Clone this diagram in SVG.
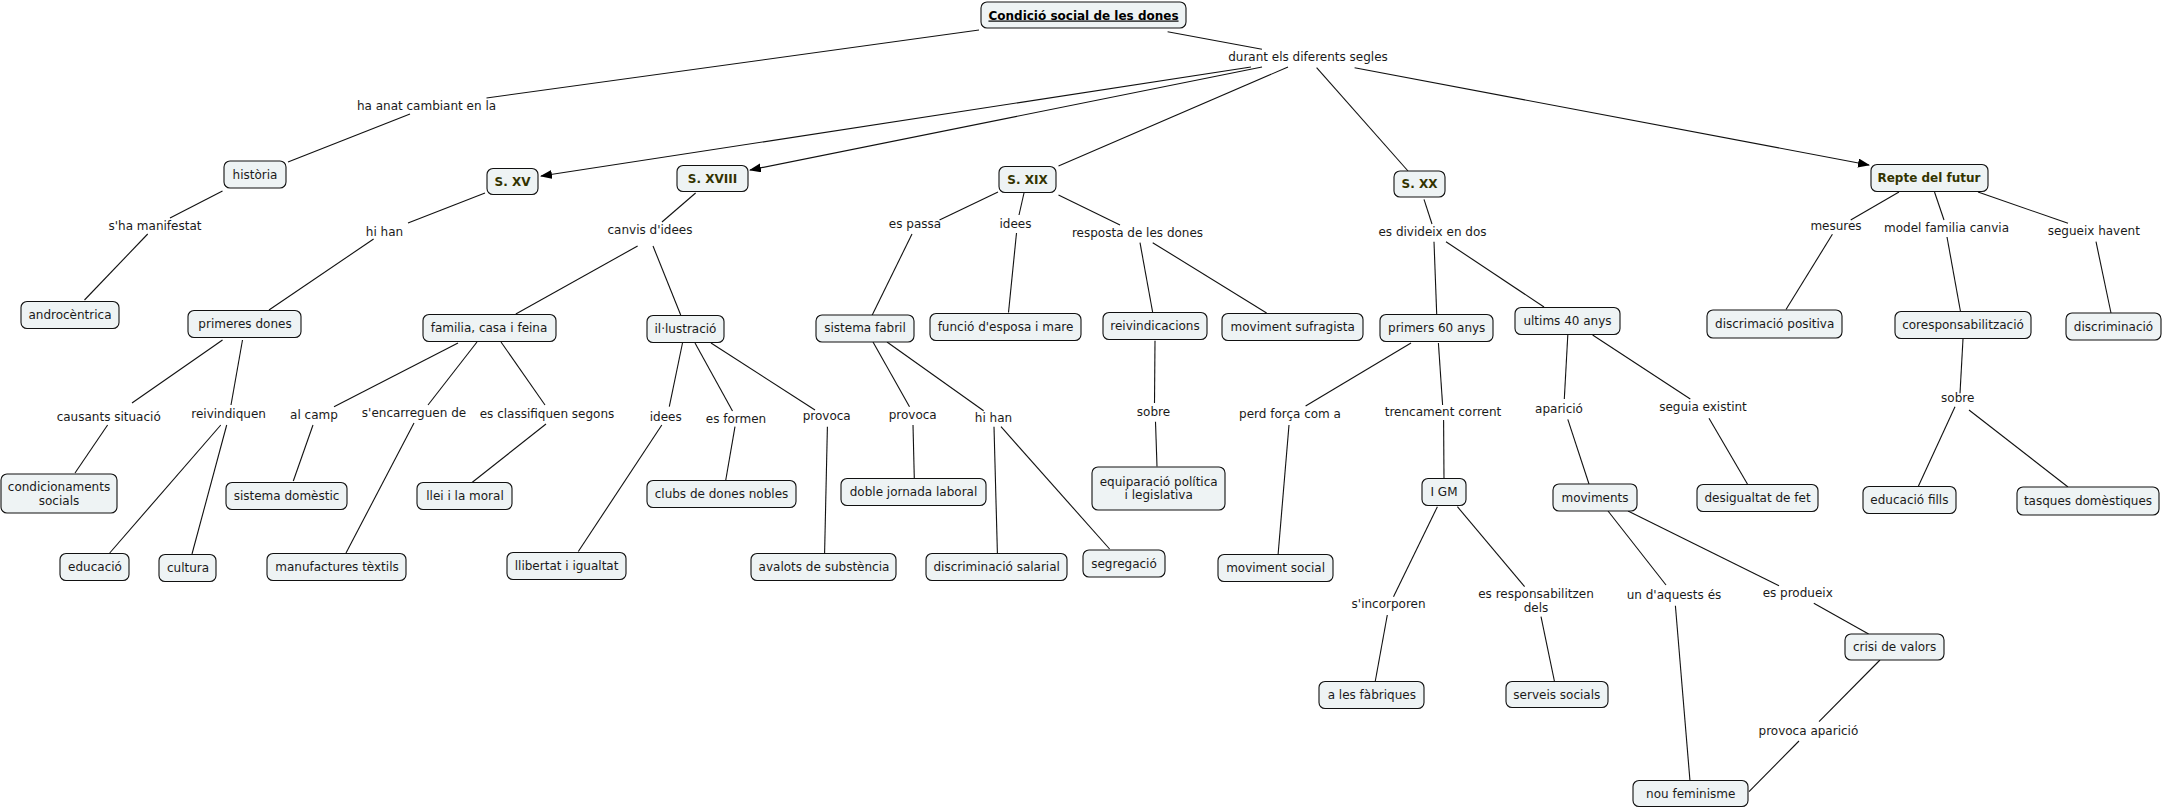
<svg xmlns="http://www.w3.org/2000/svg" width="2165" height="809" viewBox="0 0 2165 809">
<style>
text{font-family:"DejaVu Sans",Verdana,sans-serif;font-size:12px;fill:#1a1a1a;text-anchor:middle}
.n rect{fill:#eef3f4;stroke:#111;stroke-width:1.1}
.t{font-weight:bold;fill:#333300}
.r{font-weight:bold;fill:#000;text-decoration:underline}
#connectors line{stroke:#111;stroke-width:1.1;fill:none}
</style>
<defs>
<marker id="arr" markerUnits="userSpaceOnUse" markerWidth="12" markerHeight="10" refX="11" refY="4.5" orient="auto">
<path d="M0,0 L12,4.5 L0,9 z" fill="#000"/>
</marker>
</defs>
<rect width="2165" height="809" fill="#fff"/>
<g id="connectors">
<line x1="979" y1="30" x2="486.5" y2="98"/>
<line x1="410" y1="114" x2="288" y2="162"/>
<line x1="222.5" y1="191" x2="170" y2="218"/>
<line x1="147.7" y1="234" x2="84.5" y2="300"/>
<line x1="1167.6" y1="31.7" x2="1262" y2="49.3"/>
<line x1="1251" y1="67" x2="541" y2="176" marker-end="url(#arr)"/>
<line x1="1262" y1="67" x2="750" y2="170" marker-end="url(#arr)"/>
<line x1="1288" y1="67" x2="1058.5" y2="166"/>
<line x1="1316.6" y1="67.7" x2="1408" y2="171"/>
<line x1="1354.6" y1="67.7" x2="1869" y2="165" marker-end="url(#arr)"/>
<line x1="485" y1="193" x2="408" y2="223"/>
<line x1="373.6" y1="239" x2="269" y2="310"/>
<line x1="222.5" y1="340" x2="132" y2="403"/>
<line x1="107.6" y1="425" x2="75" y2="473"/>
<line x1="242.5" y1="340" x2="231" y2="405"/>
<line x1="220.8" y1="425" x2="109.7" y2="553"/>
<line x1="226.7" y1="425" x2="192" y2="554"/>
<line x1="695.6" y1="193" x2="662" y2="222"/>
<line x1="637.6" y1="246" x2="515.8" y2="314"/>
<line x1="653" y1="246" x2="680.7" y2="315"/>
<line x1="458" y1="343" x2="334" y2="406.7"/>
<line x1="313" y1="425" x2="293.3" y2="481"/>
<line x1="477" y1="342" x2="428" y2="405"/>
<line x1="414" y1="423" x2="346" y2="553"/>
<line x1="501" y1="342" x2="545" y2="405"/>
<line x1="546" y1="424" x2="472" y2="482.5"/>
<line x1="682.5" y1="343" x2="669.3" y2="406.7"/>
<line x1="661.8" y1="425" x2="578.3" y2="551.5"/>
<line x1="695" y1="343" x2="732.5" y2="411"/>
<line x1="735" y1="426.7" x2="725.6" y2="481"/>
<line x1="711" y1="343" x2="815" y2="410"/>
<line x1="827.4" y1="426.7" x2="824.6" y2="553"/>
<line x1="998" y1="192" x2="939.5" y2="220"/>
<line x1="912" y1="234" x2="872" y2="315.5"/>
<line x1="1024" y1="193" x2="1019" y2="215"/>
<line x1="1016.5" y1="233" x2="1008.5" y2="312.5"/>
<line x1="1058.5" y1="195" x2="1120" y2="225"/>
<line x1="873" y1="342" x2="909.5" y2="406.7"/>
<line x1="913" y1="425" x2="914.3" y2="478.5"/>
<line x1="887" y1="342" x2="983.6" y2="410.7"/>
<line x1="994" y1="426.7" x2="997.4" y2="553"/>
<line x1="1001" y1="426.7" x2="1109.6" y2="549"/>
<line x1="1140" y1="242.7" x2="1152.7" y2="312.5"/>
<line x1="1152.7" y1="242.7" x2="1266.6" y2="313"/>
<line x1="1155" y1="340.7" x2="1154.5" y2="403"/>
<line x1="1155.5" y1="421.7" x2="1157" y2="466.5"/>
<line x1="1424" y1="199.3" x2="1432" y2="224"/>
<line x1="1434" y1="241.7" x2="1436.7" y2="314"/>
<line x1="1446" y1="241.7" x2="1544" y2="307"/>
<line x1="1411" y1="343" x2="1305.6" y2="406"/>
<line x1="1289" y1="425" x2="1278" y2="555.5"/>
<line x1="1438.4" y1="343" x2="1442.6" y2="405"/>
<line x1="1443.6" y1="420" x2="1444" y2="479"/>
<line x1="1437.4" y1="506.7" x2="1393.5" y2="596.7"/>
<line x1="1387.3" y1="615" x2="1375.3" y2="681"/>
<line x1="1457.4" y1="506.7" x2="1524.6" y2="586.7"/>
<line x1="1541" y1="616.7" x2="1554.7" y2="682.5"/>
<line x1="1567.8" y1="335" x2="1564.3" y2="399"/>
<line x1="1567.8" y1="419.3" x2="1589" y2="484"/>
<line x1="1592.6" y1="335" x2="1690.3" y2="399"/>
<line x1="1709" y1="418.3" x2="1748" y2="485"/>
<line x1="1608" y1="511" x2="1666" y2="585"/>
<line x1="1675.4" y1="605.7" x2="1690" y2="781"/>
<line x1="1628" y1="511" x2="1779" y2="585.7"/>
<line x1="1813.8" y1="603.3" x2="1868.6" y2="634"/>
<line x1="1880" y1="660" x2="1819" y2="721.7"/>
<line x1="1799" y1="741" x2="1749" y2="791.7"/>
<line x1="1899" y1="192" x2="1850.7" y2="220"/>
<line x1="1832.4" y1="234.3" x2="1786" y2="309.5"/>
<line x1="1934.5" y1="192" x2="1944" y2="220"/>
<line x1="1947" y1="237" x2="1960.4" y2="311"/>
<line x1="1978" y1="192" x2="2068" y2="223.3"/>
<line x1="2096" y1="241.7" x2="2111" y2="313"/>
<line x1="1963" y1="339" x2="1960" y2="393.3"/>
<line x1="1955" y1="406.7" x2="1918" y2="487"/>
<line x1="1969" y1="410" x2="2068" y2="487"/>
</g>
<g id="labels">
<text x="426.5" y="110">ha anat cambiant en la</text>
<text x="1308" y="60.7">durant els diferents segles</text>
<text x="155" y="230">s'ha manifestat</text>
<text x="384.5" y="236">hi han</text>
<text x="108.7" y="421">causants situació</text>
<text x="228.6" y="418">reivindiquen</text>
<text x="650" y="234">canvis d'idees</text>
<text x="314" y="419">al camp</text>
<text x="414" y="417">s'encarreguen de</text>
<text x="547" y="418">es classifiquen segons</text>
<text x="665.7" y="421">idees</text>
<text x="736" y="423">es formen</text>
<text x="826.7" y="420">provoca</text>
<text x="915" y="228">es passa</text>
<text x="1015.5" y="228">idees</text>
<text x="1137.5" y="236.7">resposta de les dones</text>
<text x="912.7" y="419">provoca</text>
<text x="993.5" y="422">hi han</text>
<text x="1153.5" y="416">sobre</text>
<text x="1432.5" y="236.3">es divideix en dos</text>
<text x="1290" y="418">perd força com a</text>
<text x="1443" y="416">trencament corrent</text>
<text x="1559" y="413">aparició</text>
<text x="1703" y="411">seguia existint</text>
<text x="1388.6" y="608">s'incorporen</text>
<text x="1536" y="598">es responsabilitzen<tspan x="1536" dy="14.3">dels</tspan></text>
<text x="1674" y="598.5">un d'aquests és</text>
<text x="1797.7" y="597">es produeix</text>
<text x="1808.4" y="735">provoca aparició</text>
<text x="1836" y="230">mesures</text>
<text x="1946.5" y="232.3">model familia canvia</text>
<text x="2093.8" y="235">segueix havent</text>
<text x="1957.7" y="402">sobre</text>
</g>
<g id="n-root" class="n"><rect x="981" y="2" width="205" height="26" rx="6"/><text class="r" x="1083.5" y="19.5">Condició social de les dones</text></g>
<g id="n-historia" class="n"><rect x="224" y="161" width="62" height="27" rx="6"/><text x="255" y="178.5">història</text></g>
<g id="n-androcentrica" class="n"><rect x="21" y="301.5" width="98" height="27" rx="6"/><text x="70" y="319">androcèntrica</text></g>
<g id="n-sxv" class="n"><rect x="487" y="168.5" width="51" height="26" rx="6"/><text class="t" x="512.5" y="185.5">S. XV</text></g>
<g id="n-primeres" class="n"><rect x="188" y="310.5" width="113" height="27" rx="6"/><text x="245" y="328">primeres dones</text></g>
<g id="n-condicionaments" class="n"><rect x="1" y="474" width="116" height="39" rx="6"/><text x="59" y="491.3">condicionaments<tspan x="59" dy="13.4">socials</tspan></text></g>
<g id="n-educacio" class="n"><rect x="60" y="553.5" width="69" height="27" rx="6"/><text x="95" y="571">educació</text></g>
<g id="n-cultura" class="n"><rect x="159" y="554.5" width="57" height="27" rx="6"/><text x="188" y="572">cultura</text></g>
<g id="n-sxviii" class="n"><rect x="677" y="165.5" width="71" height="26" rx="6"/><text class="t" x="712.5" y="182.5">S. XVIII</text></g>
<g id="n-familia" class="n"><rect x="423" y="314.5" width="133" height="27" rx="6"/><text x="489" y="332">familia, casa i feina</text></g>
<g id="n-illustracio" class="n"><rect x="647" y="315.5" width="77" height="27" rx="6"/><text x="685.5" y="333">il·lustració</text></g>
<g id="n-domestic" class="n"><rect x="226" y="482.5" width="121" height="27" rx="6"/><text x="286.5" y="500">sistema domèstic</text></g>
<g id="n-manufactures" class="n"><rect x="267" y="553.5" width="139" height="27" rx="6"/><text x="337" y="571">manufactures tèxtils</text></g>
<g id="n-llei" class="n"><rect x="417" y="482.5" width="95" height="27" rx="6"/><text x="465" y="500">llei i la moral</text></g>
<g id="n-llibertat" class="n"><rect x="507" y="552.5" width="119" height="27" rx="6"/><text x="566.6" y="570">llibertat i igualtat</text></g>
<g id="n-clubs" class="n"><rect x="647" y="480.5" width="149" height="27" rx="6"/><text x="721.5" y="498">clubs de dones nobles</text></g>
<g id="n-avalots" class="n"><rect x="751" y="553.5" width="145" height="27" rx="6"/><text x="824" y="571">avalots de substència</text></g>
<g id="n-sxix" class="n"><rect x="999" y="166.5" width="57" height="26" rx="6"/><text class="t" x="1027.5" y="183.5">S. XIX</text></g>
<g id="n-fabril" class="n"><rect x="816" y="315" width="98" height="27" rx="6"/><text x="865" y="332">sistema fabril</text></g>
<g id="n-funcio" class="n"><rect x="930" y="313.5" width="151" height="27" rx="6"/><text x="1005.5" y="331">funció d'esposa i mare</text></g>
<g id="n-doble" class="n"><rect x="841" y="478.5" width="145" height="27" rx="6"/><text x="913.5" y="496">doble jornada laboral</text></g>
<g id="n-salarial" class="n"><rect x="926" y="553.5" width="141" height="27" rx="6"/><text x="996.7" y="571">discriminació salarial</text></g>
<g id="n-segregacio" class="n"><rect x="1083" y="550" width="82" height="27" rx="6"/><text x="1124" y="568">segregació</text></g>
<g id="n-reivindicacions" class="n"><rect x="1103" y="312.5" width="104" height="27" rx="6"/><text x="1155" y="330">reivindicacions</text></g>
<g id="n-sufragista" class="n"><rect x="1222" y="313.5" width="141" height="27" rx="6"/><text x="1292.7" y="331">moviment sufragista</text></g>
<g id="n-equiparacio" class="n"><rect x="1092" y="467" width="133" height="43" rx="6"/><text x="1158.7" y="485.7">equiparació política<tspan x="1158.7" dy="13.3">i legislativa</tspan></text></g>
<g id="n-sxx" class="n"><rect x="1394" y="171" width="51" height="26" rx="6"/><text class="t" x="1419.5" y="188">S. XX</text></g>
<g id="n-primers60" class="n"><rect x="1380" y="314.5" width="113" height="27" rx="6"/><text x="1436.7" y="332">primers 60 anys</text></g>
<g id="n-ultims40" class="n"><rect x="1515" y="307.5" width="105" height="27" rx="6"/><text x="1567.5" y="324.7">ultims 40 anys</text></g>
<g id="n-movsocial" class="n"><rect x="1218" y="554.5" width="115" height="27" rx="6"/><text x="1275.6" y="572">moviment social</text></g>
<g id="n-igm" class="n"><rect x="1422" y="478.5" width="44" height="27" rx="6"/><text x="1444" y="496">I GM</text></g>
<g id="n-fabriques" class="n"><rect x="1319" y="681.5" width="105" height="27" rx="6"/><text x="1371.8" y="699">a les fàbriques</text></g>
<g id="n-serveis" class="n"><rect x="1506" y="681.5" width="102" height="26" rx="6"/><text x="1556.8" y="698.7">serveis socials</text></g>
<g id="n-moviments" class="n"><rect x="1553" y="484" width="84" height="27" rx="6"/><text x="1595" y="501.5">moviments</text></g>
<g id="n-desigualtat" class="n"><rect x="1697" y="484.5" width="121" height="27" rx="6"/><text x="1757.5" y="502">desigualtat de fet</text></g>
<g id="n-feminisme" class="n"><rect x="1633" y="780.5" width="115" height="26" rx="6"/><text x="1690.7" y="797.5">nou feminisme</text></g>
<g id="n-crisi" class="n"><rect x="1845" y="634" width="99" height="26" rx="6"/><text x="1894.6" y="651">crisi de valors</text></g>
<g id="n-repte" class="n"><rect x="1871" y="164.5" width="117" height="27" rx="6"/><text class="t" x="1929" y="182">Repte del futur</text></g>
<g id="n-positiva" class="n"><rect x="1707" y="310" width="135" height="28" rx="6"/><text x="1774.7" y="328">discrimació positiva</text></g>
<g id="n-corresp" class="n"><rect x="1895" y="311.5" width="136" height="27" rx="6"/><text x="1963" y="329">coresponsabilització</text></g>
<g id="n-discriminacio" class="n"><rect x="2066" y="313" width="95" height="27" rx="6"/><text x="2113.5" y="330.7">discriminació</text></g>
<g id="n-fills" class="n"><rect x="1863" y="486.5" width="93" height="27" rx="6"/><text x="1909.4" y="504">educació fills</text></g>
<g id="n-tasques" class="n"><rect x="2017" y="487" width="142" height="28" rx="6"/><text x="2088" y="505">tasques domèstiques</text></g>
</svg>
